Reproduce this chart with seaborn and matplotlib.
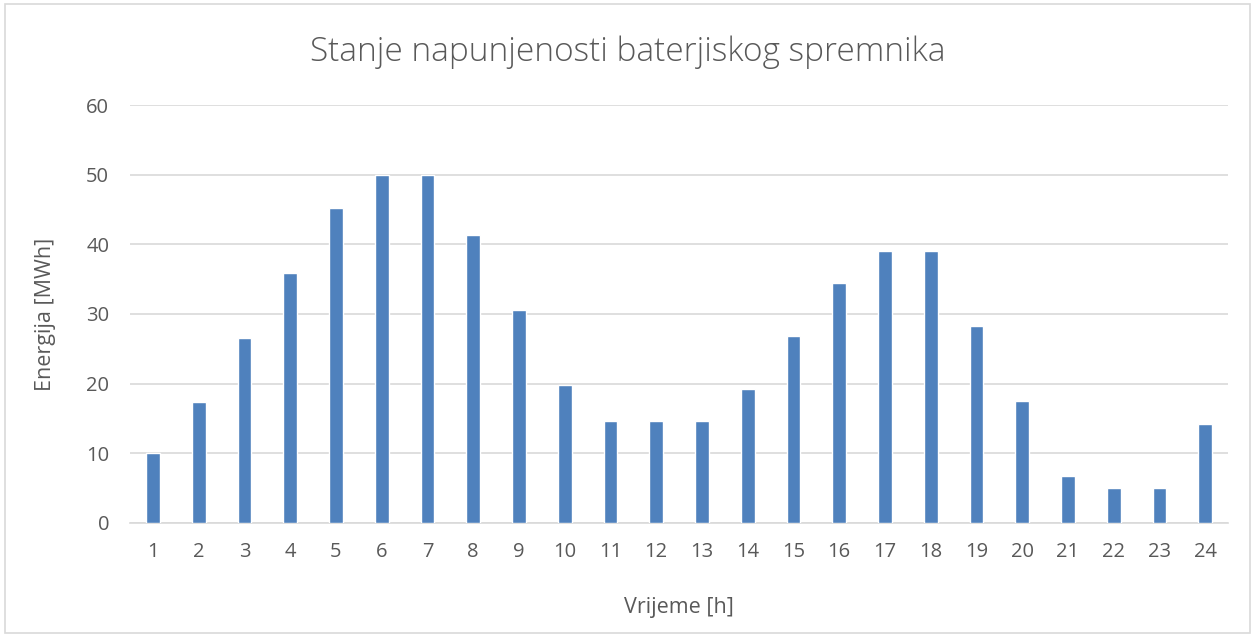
import matplotlib
matplotlib.use('Agg')
import matplotlib.pyplot as plt
import seaborn as sns
import pandas as pd
from matplotlib.patches import Rectangle

# Data
hours = [str(h) for h in range(1, 25)]
energy = [10.0, 17.4, 26.6, 35.9, 45.2, 50.0, 50.0, 41.4, 30.6, 19.8, 14.6, 14.6,
          14.6, 19.3, 26.8, 34.4, 39.1, 39.1, 28.3, 17.5, 6.7, 5.0, 5.0, 14.2]
yticks = [0, 10, 20, 30, 40, 50, 60]

df = pd.DataFrame({'Vrijeme': hours, 'Energija': energy})

sns.set_style('white')
plt.rcParams['font.family'] = ['Open Sans', 'DejaVu Sans']
text_col = '#595959'
grid_col = '#d9d9d9'

fig = plt.figure(figsize=(12.55, 6.36), dpi=100)
ax = fig.add_axes([0.1036, 0.1777, 0.875, 0.6572])

sns.barplot(x='Vrijeme', y='Energija', data=df, color='#4f81bd', width=0.3,
            saturation=1, ax=ax, zorder=3)

ax.set_ylim(0, 60)
ax.set_yticks(yticks)
ax.yaxis.grid(True, color=grid_col, linewidth=1.2, zorder=0)
ax.set_axisbelow(True)
for s in ['top', 'right', 'left']:
    ax.spines[s].set_visible(False)
ax.spines['bottom'].set_color(grid_col)
ax.spines['bottom'].set_linewidth(1.2)
ax.tick_params(axis='both', length=0, labelsize=14.5, labelcolor=text_col)
ax.tick_params(axis='x', pad=14)
ax.tick_params(axis='y', pad=15)

ax.set_xlabel('Vrijeme [h]', fontsize=15.5, color=text_col)
ax.set_ylabel('Energija [MWh]', fontsize=15.5, color=text_col)
ax.xaxis.set_label_coords(0.5, -0.203)
ax.xaxis.label.set_va('center')
ax.yaxis.set_label_coords(-0.0774, 0.5)
ax.yaxis.label.set_va('center')

fig.text(0.5, 0.918, 'Stanje napunjenosti baterjiskog spremnika', ha='center', va='center',
         fontsize=24, color=text_col, fontweight='light')

# chart border
fig.patches.append(Rectangle((0.004, 0.005), 0.992, 0.988, transform=fig.transFigure,
                             fill=False, edgecolor=grid_col, linewidth=1.2))

fig.savefig('out.png', dpi=100)
